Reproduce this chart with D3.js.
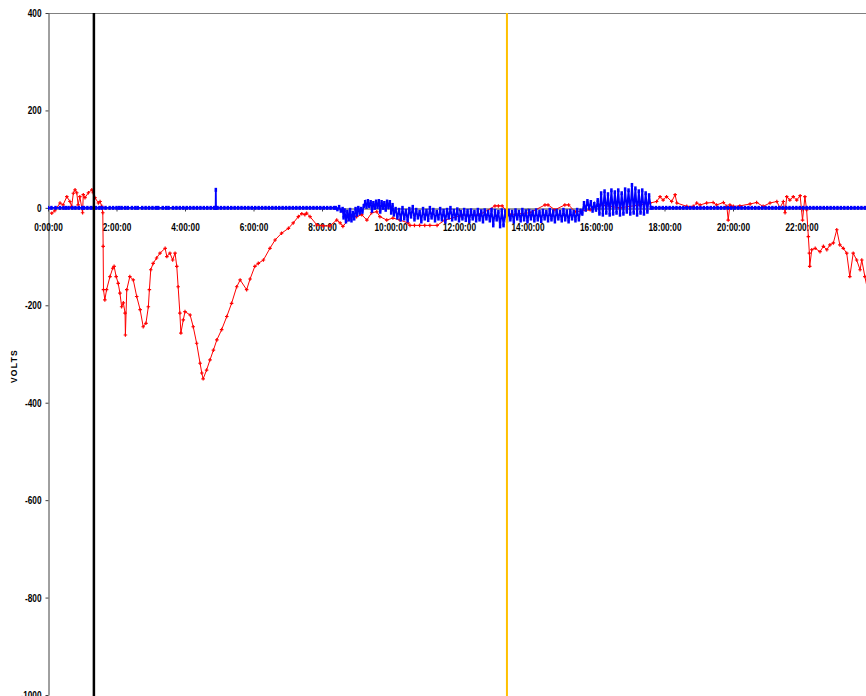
<!DOCTYPE html>
<html>
<head>
<meta charset="utf-8">
<script src="https://cdn.jsdelivr.net/npm/d3@7"></script>
<style>
  body { margin: 0; background: #fff; }
  .tick text { font-family: "Liberation Sans", Arial, sans-serif; font-weight: bold; font-size: 11px; fill: #000; }
</style>
</head>
<body>
<svg id="chart" width="866" height="696"></svg>
<script>
// Axis ticks
const hourTicks = [0, 2, 4, 6, 8, 10, 12, 14, 16, 18, 20, 22];
const voltTicks = [400, 200, 0, -200, -400, -600, -800, -1000];

// Event markers (hour of day)
const eventHours = [1.34, 13.4];
const eventColors = ["#000000", "#FFC000"];

// Red channel: [hour, volts]
const redReadings = [
  [0.11,-11],[0.20,-6],[0.35,10],[0.44,6],[0.55,23],[0.64,13],[0.69,3],[0.74,30],[0.79,37],[0.84,31],
  [0.88,6],[0.93,23],[1.01,-10],[1.03,27],[1.08,21],[1.18,31],[1.28,37],[1.32,31],[1.37,21],[1.47,10],
  [1.52,13],[1.57,3],[1.60,-10],[1.61,-79],[1.62,-168],[1.66,-189],[1.71,-168],[1.81,-141],[1.89,-124],[1.93,-120],
  [1.99,-141],[2.05,-155],[2.10,-175],[2.15,-203],[2.20,-195],[2.25,-216],[2.26,-261],[2.30,-168],[2.39,-141],[2.49,-148],
  [2.59,-182],[2.69,-209],[2.78,-244],[2.86,-237],[2.93,-203],[2.96,-168],[3.00,-127],[3.07,-114],[3.17,-103],[3.27,-93],
  [3.42,-83],[3.47,-100],[3.56,-93],[3.64,-107],[3.71,-93],[3.76,-120],[3.80,-162],[3.85,-216],[3.88,-257],[3.95,-230],
  [4.00,-213],[4.15,-220],[4.24,-244],[4.34,-278],[4.44,-319],[4.49,-339],[4.53,-351],[4.63,-333],[4.73,-312],[4.83,-292],
  [4.93,-271],[5.07,-250],[5.22,-223],[5.36,-196],[5.51,-162],[5.61,-148],[5.80,-168],[5.90,-146],[6.04,-120],[6.14,-114],
  [6.29,-107],[6.48,-83],[6.63,-66],[6.82,-52],[7.02,-42],[7.16,-31],[7.31,-18],[7.41,-12],[7.50,-14],[7.55,-11],
  [7.65,-18],[7.85,-35],[8.03,-37],[8.23,-37],[8.43,-25],[8.53,-31],[8.61,-38],[8.82,-21],[8.91,-14],[9.01,-18],
  [9.16,-14],[9.31,-25],[9.45,-10],[9.60,-8],[9.69,-18],[9.89,-25],[10.07,-21],[10.28,-25],[10.51,-31],[10.57,-36],
  [10.70,-36],[10.85,-36],[11.00,-36],[11.15,-36],[11.36,-36],[11.59,-25],[12.03,-16],[12.61,-14],[13.05,4],[13.15,4],
  [13.26,4],[13.49,-14],[14.07,-10],[14.51,6],[14.60,6],[14.80,-4],[15.09,6],[15.20,6],[15.39,-8],[15.83,-4],
  [16.12,6],[16.70,0],[17.28,6],[17.58,10],[17.77,13],[17.87,23],[17.96,16],[18.06,23],[18.21,13],[18.31,27],
  [18.36,10],[18.65,3],[18.84,3],[18.94,10],[19.04,6],[19.23,10],[19.42,11],[19.52,6],[19.72,11],[19.82,3],
  [19.86,-25],[19.91,6],[20.01,3],[20.20,4],[20.50,8],[20.69,11],[20.88,3],[21.08,10],[21.28,13],[21.37,0],
  [21.47,13],[21.52,-10],[21.57,23],[21.66,16],[21.76,23],[21.86,16],[21.96,25],[22.03,-25],[22.10,23],[22.15,-4],
  [22.20,-59],[22.23,-93],[22.24,-120],[22.30,-86],[22.40,-83],[22.54,-90],[22.64,-79],[22.74,-86],[22.83,-76],[22.93,-72],
  [23.03,-45],[23.12,-76],[23.22,-83],[23.32,-93],[23.41,-141],[23.51,-93],[23.61,-107],[23.71,-127],[23.76,-107],[23.85,-141],
  [23.94,-172]
];

// Blue channel: [hour, volts]
const blueReadings = [
  [0.00,0],[0.10,0],[0.22,0],[0.35,0],[0.45,0],[0.52,0],[0.60,0],[0.71,0],[0.80,0],[0.90,0],
  [1.00,0],[1.05,0],[1.15,0],[1.25,0],[1.33,0],[1.40,0],[1.50,0],[1.58,0],[1.68,0],[1.80,0],
  [1.90,0],[2.00,0],[2.08,0],[2.15,0],[2.25,0],[2.33,0],[2.45,0],[2.55,0],[2.62,0],[2.75,0],
  [2.85,0],[2.95,0],[3.05,0],[3.15,0],[3.22,0],[3.35,0],[3.45,0],[3.52,0],[3.65,0],[3.75,0],
  [3.85,0],[3.95,0],[4.05,0],[4.15,0],[4.25,0],[4.35,0],[4.45,0],[4.55,0],[4.65,0],[4.75,0],
  [4.85,0],[4.895,0],[4.90,37],[4.905,0],[4.95,0],[5.05,0],[5.15,0],[5.25,0],[5.35,0],[5.45,0],
  [5.55,0],[5.65,0],[5.75,0],[5.85,0],[5.95,0],[6.05,0],[6.15,0],[6.25,0],[6.35,0],[6.45,0],
  [6.55,0],[6.65,0],[6.75,0],[6.85,0],[6.95,0],[7.05,0],[7.15,0],[7.25,0],[7.35,0],[7.45,0],
  [7.55,0],[7.65,0],[7.75,0],[7.85,0],[7.95,0],[8.05,0],[8.15,0],[8.25,0],[8.35,0],[8.40,0],
  [8.45,-3],[8.50,2],[8.55,-6],[8.60,-2],[8.63,-20],[8.66,-5],[8.70,-28],[8.74,-8],[8.78,-24],[8.82,-4],
  [8.86,-26],[8.90,-10],[8.94,-22],[8.98,-2],[9.02,-14],[9.06,0],[9.10,-10],[9.14,-2],[9.18,-8],[9.22,4],
  [9.26,12],[9.30,2],[9.34,14],[9.38,4],[9.42,12],[9.46,-6],[9.50,10],[9.54,0],[9.58,13],[9.62,2],
  [9.66,14],[9.70,-8],[9.74,12],[9.78,0],[9.82,10],[9.86,-4],[9.90,13],[9.94,2],[9.98,12],[10.02,-10],
  [10.06,6],[10.10,-14],[10.15,-2],[10.20,-20],[10.25,-4],[10.30,-24],[10.35,0],[10.40,-22],[10.45,-6],[10.50,-26],
  [10.55,-2],[10.60,-18],[10.65,2],[10.70,-24],[10.75,-4],[10.80,-20],[10.85,-8],[10.90,-28],[10.95,-2],[11.00,-22],
  [11.05,-6],[11.10,-25],[11.15,0],[11.20,-20],[11.25,-4],[11.30,-26],[11.35,-8],[11.40,-22],[11.45,-2],[11.50,-24],
  [11.55,-6],[11.60,-28],[11.65,-4],[11.70,-20],[11.75,0],[11.80,-24],[11.85,-6],[11.90,-22],[11.95,-3],[12.00,-26],
  [12.05,-8],[12.10,-22],[12.15,-4],[12.20,-25],[12.25,-6],[12.30,-27],[12.35,-5],[12.40,-22],[12.45,-8],[12.50,-26],
  [12.55,-4],[12.60,-24],[12.65,-7],[12.70,-28],[12.75,-5],[12.80,-22],[12.85,-8],[12.90,-26],[12.95,-4],[13.00,-36],
  [13.05,-6],[13.10,-24],[13.15,-8],[13.20,-38],[13.25,-5],[13.30,-36],[13.35,-7],[13.40,-26],[13.45,-6],[13.50,-24],
  [13.55,-8],[13.60,-28],[13.65,-5],[13.70,-22],[13.75,-8],[13.80,-26],[13.85,-4],[13.90,-24],[13.95,-7],[14.00,-28],
  [14.05,-6],[14.10,-22],[14.15,-8],[14.20,-26],[14.25,-5],[14.30,-24],[14.35,-8],[14.40,-27],[14.45,-6],[14.50,-22],
  [14.55,-8],[14.60,-26],[14.65,-4],[14.70,-24],[14.75,-7],[14.80,-28],[14.85,-6],[14.90,-22],[14.95,-8],[15.00,-26],
  [15.05,-4],[15.10,-24],[15.15,-7],[15.20,-28],[15.25,-6],[15.30,-22],[15.35,-8],[15.40,-26],[15.45,-4],[15.50,-24],
  [15.55,-6],[15.60,-12],[15.65,10],[15.70,-4],[15.75,14],[15.80,0],[15.85,12],[15.90,-6],[15.95,8],[16.00,-4],
  [16.05,16],[16.10,-12],[16.15,30],[16.20,-14],[16.25,34],[16.30,-10],[16.35,28],[16.40,-14],[16.45,36],[16.50,-12],
  [16.55,32],[16.60,-10],[16.65,36],[16.70,-14],[16.75,30],[16.80,-12],[16.85,38],[16.90,-8],[16.95,36],[17.00,-12],
  [17.05,47],[17.10,-10],[17.15,40],[17.20,-14],[17.25,34],[17.30,-10],[17.35,36],[17.40,-12],[17.45,30],[17.50,-8],
  [17.55,26],[17.60,0],[17.65,0],[17.75,0],[17.85,0],[17.95,0],[18.05,0],[18.15,0],[18.25,0],[18.35,0],
  [18.45,0],[18.55,0],[18.65,0],[18.75,0],[18.85,0],[18.95,0],[19.05,0],[19.15,0],[19.25,0],[19.35,0],
  [19.45,0],[19.55,0],[19.65,0],[19.75,0],[19.85,0],[19.95,0],[20.05,0],[20.15,0],[20.25,0],[20.35,0],
  [20.45,0],[20.55,0],[20.65,0],[20.75,0],[20.85,0],[20.95,0],[21.05,0],[21.15,0],[21.25,0],[21.35,0],
  [21.45,0],[21.55,0],[21.65,0],[21.75,0],[21.85,0],[21.95,0],[22.05,0],[22.15,0],[22.25,0],[22.35,0],
  [22.45,0],[22.55,0],[22.65,0],[22.75,0],[22.85,0],[22.95,0],[23.05,0],[23.15,0],[23.25,0],[23.35,0],
  [23.45,0],[23.55,0],[23.65,0],[23.75,0],[23.85,0],[23.95,0]
];

const W = 866, H = 696;
const plotLeft = 48, plotTop = 13, plotBottom = 695;
const narrow = 0.75; // horizontal squeeze for the condensed tick lettering

const svg = d3.select("#chart");

const x = d3.scaleLinear().domain([0, 24]).range([plotLeft, 870]);
const y = d3.scaleLinear().domain([-1000, 400]).range([plotBottom, plotTop]);

svg.append("defs").append("clipPath").attr("id", "plot")
  .append("rect").attr("x", plotLeft).attr("y", plotTop)
  .attr("width", W - plotLeft).attr("height", plotBottom - plotTop + 1);

// Top frame line
svg.append("line")
  .attr("x1", plotLeft).attr("x2", W).attr("y1", plotTop + 0.5).attr("y2", plotTop + 0.5)
  .attr("stroke", "#808080").attr("stroke-width", 1);

// Y axis
const yAxis = svg.append("g")
  .attr("transform", `translate(${plotLeft + 0.5},0)`)
  .call(d3.axisLeft(y).tickValues(voltTicks).tickFormat(v => String(v))
    .tickSize(3).tickSizeOuter(0).tickPadding(4));
yAxis.select(".domain").attr("stroke", "#404040");
yAxis.selectAll(".tick line").attr("stroke", "#404040");
yAxis.selectAll(".tick text")
  .attr("x", -7 / narrow)
  .attr("transform", `scale(${narrow},1)`);

// X axis along zero volts
const xAxis = svg.append("g")
  .attr("transform", `translate(0,${Math.round(y(0)) + 0.5})`)
  .call(d3.axisBottom(x).tickValues(hourTicks).tickFormat(h => `${h}:00:00`)
    .tickSize(3).tickSizeOuter(0).tickPadding(12));
xAxis.select(".domain").attr("stroke", "#404040");
xAxis.selectAll(".tick line").attr("stroke", "#404040");
xAxis.selectAll(".tick text").attr("transform", `scale(${narrow},1)`);

// Y title
svg.append("text")
  .attr("transform", `translate(17,366) rotate(-90)`)
  .attr("text-anchor", "middle")
  .style("font-family", "'Liberation Sans', Arial, sans-serif")
  .style("font-weight", "bold").style("font-size", "8.5px").style("letter-spacing", "1.3px")
  .text("VOLTS");

const plot = svg.append("g").attr("clip-path", "url(#plot)");
const line = d3.line().x(d => x(d[0])).y(d => y(d[1]));

// Red series
plot.append("path").datum(redReadings)
  .attr("d", line).attr("fill", "none").attr("stroke", "#FF0000").attr("stroke-width", 1);
plot.append("g").selectAll("path").data(redReadings).join("path")
  .attr("transform", d => `translate(${x(d[0])},${y(d[1])})`)
  .attr("d", d3.symbol(d3.symbolCross, 7))
  .attr("fill", "#FF0000");

// Blue series
plot.append("path").datum(blueReadings)
  .attr("d", line).attr("fill", "none").attr("stroke", "#0000FF").attr("stroke-width", 1.8);
plot.append("g").selectAll("rect").data(blueReadings).join("rect")
  .attr("x", d => x(d[0]) - 1.25).attr("y", d => y(d[1]) - 2)
  .attr("width", 2.5).attr("height", 4)
  .attr("fill", "#0000FF");

// Event lines
plot.append("g").selectAll("line").data(eventHours).join("line")
  .attr("x1", d => x(d)).attr("x2", d => x(d))
  .attr("y1", plotTop).attr("y2", H)
  .attr("stroke", (d, i) => eventColors[i])
  .attr("stroke-width", (d, i) => i === 0 ? 2.5 : 2);
</script>
</body>
</html>
